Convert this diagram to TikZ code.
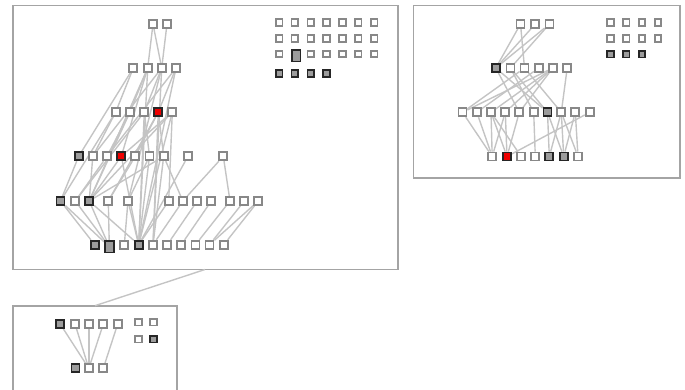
\documentclass[tikz,border=0pt]{standalone}
\usetikzlibrary{backgrounds}
\definecolor{nodegray}{HTML}{888888}
\definecolor{fillgray}{HTML}{9C9C9C}
\definecolor{edgegray}{HTML}{C4C4C4}
\definecolor{framegray}{HTML}{A4A4A4}
\definecolor{hotred}{HTML}{EE0000}
\tikzset{
  nd/.style={draw=nodegray,fill=white,line width=1.8pt,inner sep=0pt,minimum size=8pt},
  lg/.style={draw=nodegray,fill=white,line width=1.7pt,inner sep=0pt,minimum size=6.6pt},
  gr/.style={draw=black!85,fill=fillgray},
  rd/.style={draw=black!85,fill=hotred},
  big/.style={minimum width=8.6pt,minimum height=11.6pt},
  ed/.style={draw=edgegray,line width=1.4pt},
  frame/.style={draw=framegray,line width=1.7pt}
}
\begin{document}
\begin{tikzpicture}[x=1pt,y=-1pt]
\useasboundingbox (0,0) rectangle (685,389);
% frames
\draw[frame] (12.7,5.5) rectangle (398.3,269.5);
\draw[frame] (413.5,5.5) rectangle (680.3,178.3);
\draw[frame] (12.7,305.7) rectangle (177,395);
\coordinate (mainbot) at (205,269.5);
\coordinate (subtop) at (95,305.7);
\draw[ed] (subtop) -- (mainbot);
% ---------- main panel nodes
\node[nd] (A1) at (153,24) {};
\node[nd] (A2) at (167,24) {};
\foreach \n/\x in {1/133.3,2/147.7,3/161.7,4/176} \node[nd] (B\n) at (\x,68) {};
\foreach \n/\x in {1/115.7,2/130,3/144.3,5/172.3} \node[nd] (C\n) at (\x,112) {};
\node[nd,rd] (C4) at (158.3,112) {};
\node[nd,gr] (D1) at (78.7,156.3) {};
\foreach \n/\x in {2/92.8,3/107,5/135.3,6/149.5,7/163.7,8/188,9/223.3} \node[nd] (D\n) at (\x,156.3) {};
\node[nd,rd] (D4) at (121.3,156.3) {};
\node[nd,gr] (E1) at (60.5,201) {};
\node[nd] (E2) at (75.3,201) {};
\node[nd,gr] (E3) at (89.2,201) {};
\foreach \n/\x in {4/108.3,5/128,6/168.7,7/182.8,8/197.2,9/211.3,10/230,11/244.3,12/258.3} \node[nd] (E\n) at (\x,201) {};
\node[nd,gr] (F1) at (94.7,244.7) {};
\node[nd,gr,big] (F2) at (109.3,246.7) {};
\node[nd] (F3) at (124.3,244.7) {};
\node[nd,gr] (F4) at (138.7,244.7) {};
\foreach \n/\x in {5/153,6/167.3,7/181.3,8/195.5,9/209.5,10/223.8} \node[nd] (F\n) at (\x,244.7) {};
% main legend
\foreach \c/\x in {1/279.2,2/294.8,3/310.8,4/326.5,5/342.5,6/358.2,7/374.2} {
  \node[lg] (La\c) at (\x,22.5) {};
  \node[lg] (Lb\c) at (\x,38.5) {};
}
\foreach \c/\x in {1/279.2,3/310.8,4/326.5,5/342.5,6/358.2,7/374.2} \node[lg] (Lc\c) at (\x,54) {};
\node[lg,gr,minimum width=8.6pt,minimum height=11.4pt] (Lc2) at (296.3,55.7) {};
\foreach \c/\x in {1/279.2,2/294.8,3/310.8,4/326.5} \node[lg,gr] (Ld\c) at (\x,73.5) {};
% ---------- right panel nodes
\foreach \n/\x in {1/520.5,2/535.3,3/549.5} \node[nd] (T\n) at (\x,24) {};
\node[nd,gr] (M1) at (495.8,68) {};
\foreach \n/\x in {2/510.5,3/524.5,4/538.7,5/552.8,6/567.2} \node[nd] (M\n) at (\x,68) {};
\foreach \n/\x in {1/462.5,2/476.8,3/491,4/505.3,5/519.3,6/533.7,8/561.3,9/575.3,10/589.7} \node[nd] (R\n) at (\x,112.3) {};
\node[nd,gr] (R7) at (547.5,112.3) {};
\node[nd] (S1) at (492.2,156.5) {};
\node[nd,rd] (S2) at (507,156.5) {};
\node[nd] (S3) at (521.2,156.5) {};
\node[nd] (S4) at (535.3,156.5) {};
\node[nd,gr] (S5) at (549.3,156.5) {};
\node[nd,gr] (S6) at (563.7,156.5) {};
\node[nd] (S7) at (578,156.5) {};
\foreach \c/\x in {1/610.5,2/626.2,3/642,4/658} {
  \node[lg] (Ra\c) at (\x,22.5) {};
  \node[lg] (Rb\c) at (\x,38.5) {};
}
\foreach \c/\x in {1/610.5,2/626.2,3/642} \node[lg,gr] (Rc\c) at (\x,54.2) {};
% ---------- bottom panel nodes
\node[nd,gr] (P1) at (60.2,324) {};
\foreach \n/\x in {2/75,3/88.8,4/103.3,5/117.7} \node[nd] (P\n) at (\x,324) {};
\node[nd,gr] (Q1) at (75.5,368.3) {};
\node[nd] (Q2) at (88.8,368.3) {};
\node[nd] (Q3) at (103.3,368.3) {};
\node[lg] (Pa1) at (138.5,322.2) {};
\node[lg] (Pa2) at (153.5,322.2) {};
\node[lg] (Pb1) at (138.5,339.2) {};
\node[lg,gr] (Pb2) at (153.5,339.2) {};
% ---------- edges
\begin{pgfonlayer}{background}
\foreach \a/\b in {A1/B2,A1/B3,A2/B3,
  B1/C1,B1/D1,B2/C2,B2/D4,B2/F4,B3/C3,B3/D2,B3/F5,B3/E5,B4/C4,B4/D3,B4/F4,B2/E3,
  C1/D2,C2/D3,C1/E1,C2/E3,C3/F4,C3/D6,C4/D5,C4/F5,C4/E4,C5/D4,C5/F4,C5/E3,C3/E2,C4/D7,C5/E6,
  D1/E1,D2/E3,D3/E2,D4/E3,D4/F4,D5/E4,D6/F4,D7/E3,D7/F5,D8/F4,D9/E7,D9/E10,D6/E5,D7/E7,
  E1/F1,E2/F2,E3/F2,E3/F4,E4/F2,E5/F3,E5/F4,E1/F2,
  E6/F4,E7/F5,E8/F6,E9/F7,E10/F8,E11/F9,E12/F9,E12/F10,
  T1/M1,T1/M3,T2/M1,T3/M1,T3/M2,
  M1/R5,M1/R7,M2/R7,M3/R1,M4/R2,M5/R1,M5/R3,M5/R4,M5/R5,M6/R8,M2/R6,M3/R8,
  R1/S1,R2/S1,R3/S1,R3/S2,R3/S3,R4/S1,R4/S2,R5/S2,R6/S4,R7/S5,R7/S6,R8/S5,R8/S7,R9/S6,R9/S7,R10/S2,R8/S6,
  P1/Q2,P2/Q2,P3/Q2,P4/Q2,P5/Q3}
  \draw[ed] (\a) -- (\b);
\end{pgfonlayer}
\end{tikzpicture}
\end{document}
